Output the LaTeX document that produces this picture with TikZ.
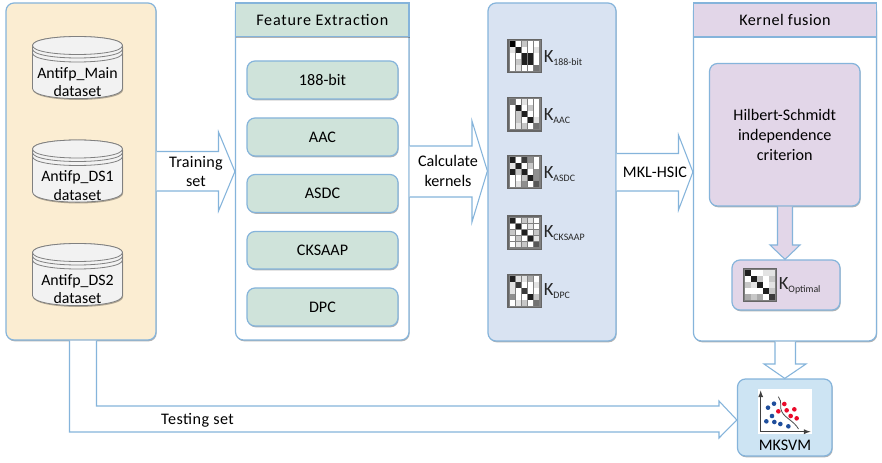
\documentclass[tikz,border=0pt]{standalone}
\usepackage{fontspec}
\setmainfont{Carlito}
\usetikzlibrary{shadows,calc}
\definecolor{edge}{HTML}{85B4DB}
\definecolor{cream}{HTML}{FBEDD2}
\definecolor{mint}{HTML}{CFE3DA}
\definecolor{bluepanel}{HTML}{D9E3F2}
\definecolor{mauve}{HTML}{E2D6E8}
\definecolor{skyb}{HTML}{CDE4F3}
\definecolor{dotblue}{HTML}{1F4E9C}
\definecolor{dotred}{HTML}{EA0A2A}
\newcommand{\txt}{\fontsize{12.1}{14}\selectfont}
\tikzset{
  softshadow/.style={drop shadow={shadow xshift=0.5pt,shadow yshift=-1pt,opacity=.3,fill=black}},
  panel/.style={draw=edge,line width=0.9pt,rounded corners=6pt,inner sep=0pt,align=center,font=\txt,softshadow},
  header/.style={draw=edge,line width=0.9pt,inner sep=0pt,align=center,font=\txt,softshadow},
  hollow/.style={draw=edge,line width=0.8pt,fill=white},
  arrowlabel/.style={font=\txt,align=center,inner sep=0pt},
  dsline/.style={draw=black!50,line width=0.6pt},
  klabel/.style={anchor=west,inner sep=0pt,text=black!85},
  icon/.style={draw=black!60,line width=0.9pt,fill=black!50,inner sep=0pt,minimum size=25pt,drop shadow={shadow xshift=0.4pt,shadow yshift=-0.4pt,opacity=.25,fill=black}},
}
% box by pixel corners
\newcommand{\pbox}[7]{%
  \pgfmathsetmacro{\cxx}{(#3+#5)/2}\pgfmathsetmacro{\cyy}{(#4+#6)/2}%
  \pgfmathsetmacro{\ww}{(#5-#3)*0.75}\pgfmathsetmacro{\hh}{(#6-#4)*0.75}%
  \node[#1,minimum width=\ww pt,minimum height=\hh pt] (#2) at (\cxx,\cyy) {#7};}
% database cylinder; top edge at given y
\newcommand{\dbcyl}[4]{%
  \begin{scope}[shift={(0,#2)}]
    \path[dsline,fill=black!5,softshadow] (32.5,9) -- (32.5,52) .. controls (32.5,65.5) and (122.5,65.5) .. (122.5,52) -- (122.5,9) .. controls (122.5,-3) and (32.5,-3) .. cycle;
    \draw[dsline,fill=black!5] (32.5,9) .. controls (32.5,-3) and (122.5,-3) .. (122.5,9) .. controls (122.5,21) and (32.5,21) .. cycle;
    \draw[dsline] (32.5,12.5) .. controls (32.5,24.5) and (122.5,24.5) .. (122.5,12.5);
    \draw[dsline] (32.5,16.5) .. controls (32.5,28.5) and (122.5,28.5) .. (122.5,16.5);
    \node[font=\fontsize{11.9}{14}\selectfont,align=center,inner sep=0pt] (#1) at (77.5,45.5) {#3\\[-0.2pt]#4};
  \end{scope}}
% kernel matrix icon: name, left, top, grey levels
\newcommand{\kicon}[4]{%
  \node[icon] (#1) at (#2+17,#3+17) {};
  \foreach \v [count=\i from 0] in {#4}{
    \pgfmathtruncatemacro{\r}{int(\i/5)}
    \pgfmathtruncatemacro{\c}{mod(\i,5)}
    \pgfmathtruncatemacro{\p}{(9-\v)*100/9}
    \fill[black!\p] (#2+2+\c*6,#3+2+\r*6) rectangle ++(5.7,5.7);
  }}
\newcommand{\klab}[1]{{\fontsize{14}{15}\selectfont K}\raisebox{-2.4pt}{\fontsize{7.4}{8}\selectfont #1}}
\begin{document}
\begin{tikzpicture}[x=0.75pt,y=-0.75pt]
\useasboundingbox (0,0) rectangle (882,463);
\fill[white] (0,0) rectangle (882,463);

% panels
\pbox{panel,fill=cream}{data}{6}{3}{156}{340}{}
\pbox{panel,fill=white}{feat}{235.5}{3}{409}{340}{}
\pbox{header,fill=mint}{feathead}{235.5}{3}{409}{36.5}{\addfontfeature{LetterSpace=5}Feature Extraction}
\pbox{panel,fill=mint}{f1}{247}{61}{398}{99}{188-bit}
\pbox{panel,fill=mint}{f2}{247}{118}{398}{156}{AAC}
\pbox{panel,fill=mint}{f3}{247}{174.5}{398}{212.5}{ASDC}
\pbox{panel,fill=mint}{f4}{247}{231.5}{398}{269}{CKSAAP}
\pbox{panel,fill=mint}{f5}{247}{288}{398}{326}{DPC}
\pbox{panel,fill=bluepanel}{kern}{488}{3}{616}{341}{}
\pbox{panel,fill=white}{fus}{693.5}{3}{876.5}{341}{}
\pbox{header,fill=mauve}{fushead}{693.5}{3}{876.5}{37}{\addfontfeature{LetterSpace=3}Kernel fusion}
\pbox{panel,fill=mauve}{hsic}{709.5}{63.5}{860}{206}{Hilbert-Schmidt\\[0.8pt]independence\\[0.8pt]criterion}
\pbox{panel,fill=mauve}{opt}{732}{260}{840}{310}{}
\pbox{panel,fill=skyb}{svm}{737.5}{379}{832}{456}{}

% databases
\dbcyl{db1}{36.5}{Antifp\_Main}{dataset}
\dbcyl{db2}{140}{Antifp\_DS1}{dataset}
\dbcyl{db3}{243.5}{Antifp\_DS2}{dataset}

% hollow block arrows between panels
\draw[hollow] (data.east |- 0,151.5) -- (218.5,151.5) -- (218.5,132) -- (feat.west |- 0,171.5) -- (218.5,211) -- (218.5,191) -- (data.east |- 0,191);
\draw[hollow] (feat.east |- 0,146) -- (472,146) -- (472,121) -- (kern.west |- 0,171) -- (472,222) -- (472,197) -- (feat.east |- 0,197);
\draw[hollow] (kern.east |- 0,153.5) -- (678.5,153.5) -- (678.5,135) -- (fus.west |- 0,172) -- (678.5,210) -- (678.5,191) -- (kern.east |- 0,191);
\draw[hollow] (775,0 |- fus.south) -- (775,364) -- (764,364) -- (svm.north) -- (806,364) -- (795.5,364) -- (795.5,0 |- fus.south);
\draw[hollow] (96.5,0 |- data.south) -- (96.5,406) -- (719,406) -- (719,401) -- (svm.west |- 0,420) -- (719,438) -- (719,432) -- (69.5,432) -- (69.5,0 |- data.south);
% inner arrow in fusion panel
\draw[draw=edge,line width=0.8pt,fill=mauve] (777.5,0 |- hsic.south) -- (777.5,245) -- (770,245) -- (opt.north -| 785,0) -- (800,245) -- (792.5,245) -- (792.5,0 |- hsic.south);

% arrow labels
\node[arrowlabel] (l1) at (196,171.5) {\addfontfeature{LetterSpace=1.5}Training\\[0.8pt]set};
\node[arrowlabel] (l2) at (448,171) {Calculate\\[0.8pt]kernels};
\node[arrowlabel] (l3) at (655,172) {MKL-HSIC};
\node[arrowlabel] (l4) at (197.5,420) {\addfontfeature{LetterSpace=3}Testing set};

% kernel icons
\kicon{k1}{507.7}{39}{0,9,7,9,9,8,1,9,9,8,9,9,1,1,9,9,7,1,1,9,9,8,9,9,4}
\kicon{k2}{507.7}{97.3}{4,9,8,9,9,9,1,9,7,9,9,7,1,9,9,9,7,9,1,8,9,8,7,9,4}
\kicon{k3}{507.7}{155}{1,9,2,5,9,8,1,9,7,9,1,7,1,9,5,9,9,7,1,5,9,8,5,9,3}
\kicon{k4}{507.7}{215.7}{1,9,7,8,9,9,1,9,8,9,7,9,1,9,7,9,7,9,1,8,9,8,7,9,3}
\kicon{k5}{507.7}{274}{1,8,8,6,9,8,2,9,9,8,8,9,2,9,9,5,9,9,1,7,9,8,7,9,4}
\kicon{k6}{743}{268}{1,9,9,8,8,9,1,7,9,7,7,8,1,9,8,9,9,9,1,7,6,7,6,9,2}
\node[klabel] (t1) at (543.5,58) {\klab{188-bit}};
\node[klabel] (t2) at (543.5,116) {\klab{AAC}};
\node[klabel] (t3) at (543.5,174) {\klab{ASDC}};
\node[klabel] (t4) at (543.5,233) {\klab{CKSAAP}};
\node[klabel] (t5) at (543.5,291) {\klab{DPC}};
\node[klabel] (t6) at (778.5,286) {\klab{Optimal}};

% SVM plot
\fill[white] (758,389) rectangle (811.7,434);
\draw[black!75,line width=0.7pt,-latex] (760.7,431.7) -- (760.7,390.5);
\draw[black!75,line width=0.7pt,-latex] (760.7,431.7) -- (810.5,431.7);
\draw[black!70,line width=0.6pt] (778.3,396.7) .. controls (783,402) and (779,408) .. (782,412) .. controls (785,418) and (794,421) .. (798.5,429);
\foreach \a/\b in {222/521,204/533,216/558,199/574,223/576,241/582,265/589}
  \fill[dotblue] (700+\a/3,230+\b/3) circle[radius=2.3];
\foreach \a/\b in {253/522,283/538,260/541,235/544,272/558,290/565}
  \fill[dotred] (700+\a/3,230+\b/3) circle[radius=2.3];
\node[font=\txt,inner sep=0pt] (svmt) at (785,445.5) {MKSVM};
\end{tikzpicture}
\end{document}
